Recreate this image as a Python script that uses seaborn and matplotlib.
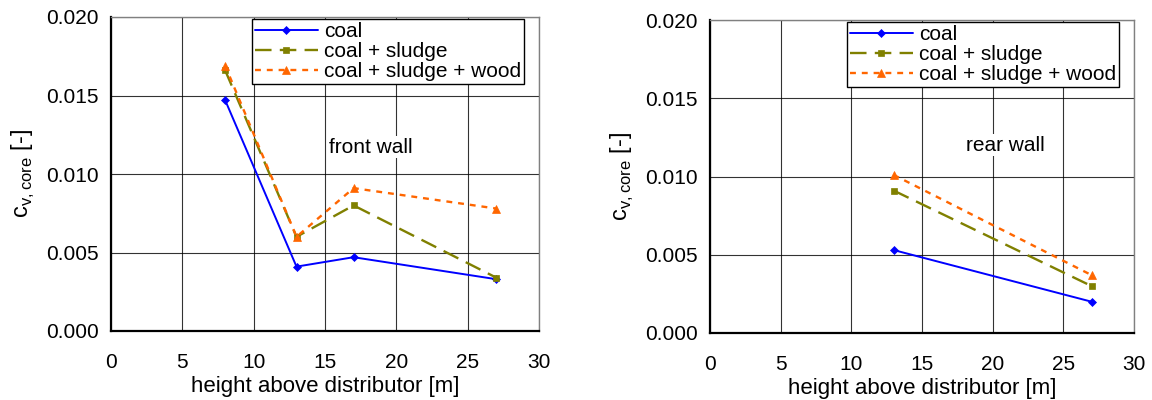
import numpy as np
import pandas as pd
import seaborn as sns
import matplotlib
matplotlib.use("Agg")
import matplotlib.pyplot as plt
from matplotlib.ticker import MultipleLocator, FormatStrFormatter

sns.set_style("white")
plt.rcParams['font.family'] = ['Liberation Sans', 'DejaVu Sans']
plt.rcParams['text.color'] = 'black'
plt.rcParams['axes.labelcolor'] = 'black'
plt.rcParams['xtick.color'] = 'black'
plt.rcParams['ytick.color'] = 'black'

series = ["coal", "coal + sludge", "coal + sludge + wood"]

front_x = [8, 13, 17, 27]
front_coal = [0.0147, 0.0041, 0.0047, 0.0033]
front_sludge = [0.0166, 0.0060, 0.0080, 0.0034]
front_wood = [0.0169, 0.0060, 0.0091, 0.0078]

rear_x = [13, 27]
rear_coal = [0.0053, 0.0020]
rear_sludge = [0.0091, 0.0030]
rear_wood = [0.0101, 0.0037]

x_ticks = [0, 5, 10, 15, 20, 25, 30]
y_ticks = [0.000, 0.005, 0.010, 0.015, 0.020]

def make_df(x, a, b, c):
    rows = []
    for name, vals in zip(series, [a, b, c]):
        for xi, v in zip(x, vals):
            rows.append({"x": xi, "y": v, "series": name})
    return pd.DataFrame(rows)

palette = {series[0]: "#0000FF", series[1]: "#808000", series[2]: "#FF6600"}
markers = {series[0]: "D", series[1]: "s", series[2]: "^"}
dashes = {series[0]: "", series[1]: (7, 3.5), series[2]: (2.5, 2.5)}
msizes = {series[0]: 4, series[1]: 5, series[2]: 5.5}
lwidths = {series[0]: 1.4, series[1]: 1.7, series[2]: 1.7}

fig = plt.figure(figsize=(11.52, 4.0), dpi=100)
ax1 = fig.add_axes([0.0964, 0.1725, 0.3715, 0.785])
ax2 = fig.add_axes([0.6163, 0.1675, 0.368, 0.7825])

for ax, df, label, lx, ly in [
    (ax1, make_df(front_x, front_coal, front_sludge, front_wood), "front wall", 15.3, 0.0117),
    (ax2, make_df(rear_x, rear_coal, rear_sludge, rear_wood), "rear wall", 18.1, 0.0120),
]:
    sns.lineplot(data=df, x="x", y="y", hue="series", style="series",
                 palette=palette, markers=markers, dashes=dashes,
                 markeredgewidth=0.5, ax=ax, legend=False)
    for line, s in zip(ax.get_lines(), series):
        line.set_markersize(msizes[s])
        line.set_linewidth(lwidths[s])
        line.set_markeredgecolor(palette[s])
    ax.set_xlim(0, 30)
    ax.set_ylim(0, 0.020)
    ax.set_xticks(x_ticks)
    ax.set_yticks(y_ticks)
    ax.yaxis.set_major_formatter(FormatStrFormatter("%.3f"))
    ax.xaxis.set_minor_locator(MultipleLocator(1))
    ax.yaxis.set_minor_locator(MultipleLocator(0.001))
    ax.grid(True, which="major", color="#000000", linewidth=0.8, alpha=0.8)
    ax.set_axisbelow(True)
    ax.tick_params(axis="both", which="major", direction="out", length=6, width=1.2,
                   labelsize=15, color="black", labelcolor="black", pad=10)
    ax.tick_params(axis="y", which="major", pad=3)
    ax.tick_params(axis="both", which="minor", direction="out", length=4, width=1.0, color="black")
    for sp in ["left", "bottom"]:
        ax.spines[sp].set_color("black")
        ax.spines[sp].set_linewidth(1.6)
    for sp in ["top", "right"]:
        ax.spines[sp].set_color("#808080")
        ax.spines[sp].set_linewidth(1.0)
    ax.set_xlabel("height above distributor [m]", fontsize=16, labelpad=3, color="black")
    ax.set_ylabel("c$_{\\mathregular{v,core}}$ [-]", fontsize=17, labelpad=6, color="black")
    ax.text(lx, ly, label, fontsize=15, ha="left", va="center", color="black",
            bbox=dict(facecolor="white", edgecolor="none", pad=1))
    handles = ax.get_lines()[:3]
    leg = ax.legend(handles, series, loc="upper right", bbox_to_anchor=(0.97, 1.0),
                    fontsize=15, frameon=True, fancybox=False, framealpha=1,
                    edgecolor="black", borderpad=0.15, labelspacing=0.05,
                    handlelength=3.0, handletextpad=0.3, borderaxespad=0.1,
                    labelcolor="black")
    leg.get_frame().set_linewidth(1.0)

fig.savefig("out.png", dpi=100)
